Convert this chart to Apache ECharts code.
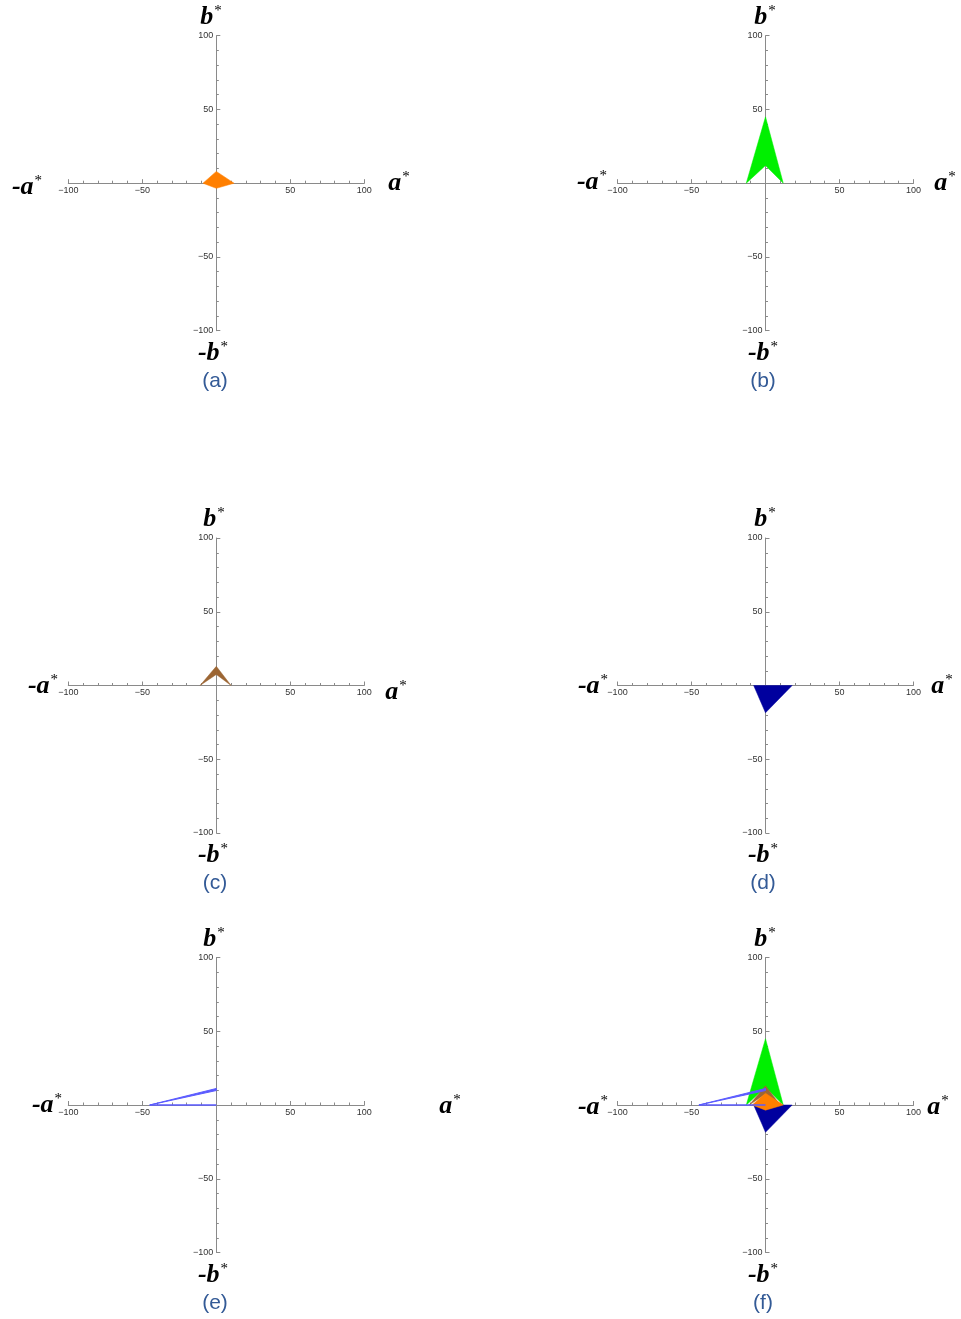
<!DOCTYPE html>
<html>
<head>
<meta charset="utf-8">
<style>
  html, body { margin: 0; padding: 0; background: #fff; }
  #chart { width: 961px; height: 1319px; }
</style>
<script src="https://cdn.jsdelivr.net/npm/echarts@6.0.0/dist/echarts.min.js"></script>
</head>
<body>
<div id="chart"></div>
<script>
// CIELAB a*b* shapes, vertices given as [a*, b*]
const orangeShape = [[12, 0], [0, 8], [-9, 0], [0, -3.5]];
const greenShape  = [[12, 0], [0, 45], [-13, 0], [0, 12]];
const brownShape  = [[10, 0], [0, 13], [-11, 0], [0, 7.5]];
const navyShape   = [[18, 0], [0, 0], [-8, 0], [0, -18.5]];
const blueShape   = [[0, 11.2], [-45, 0], [0, 9.8]];
const blueBase    = [[-45, 0], [0, 0]];

const axisMin = -100;
const axisMax = 100;
const tickStep = 50;

const captions = ['(a)', '(b)', '(c)', '(d)', '(e)', '(f)'];

const colors = {
  orange: '#ff7f00',
  green: '#00f000',
  brown: '#9c6634',
  navy: '#00009e',
  blue: '#5a5aff'
};

// which shapes appear in each panel (drawn in this order)
const panelShapes = [
  ['orange'],
  ['green'],
  ['brown'],
  ['navy'],
  ['blue'],
  ['green', 'navy', 'brown', 'orange', 'blue']
];

const shapeData = {
  orange: orangeShape,
  green: greenShape,
  brown: brownShape,
  navy: navyShape,
  blue: blueShape
};

// panel layout
const colLeft = [68.3, 617.5];
const rowTop = [35.7, 538, 957.5];
const plotW = 296, plotH = 295;

// axis name positions per panel: [b*, -b*, -a*, a*] centres
const nameSpots = [
  [[211, 17], [213, 353], [27, 187], [399, 183]],
  [[765, 17], [763, 353], [592, 182], [945, 183]],
  [[214, 519], [213, 855], [43, 686], [396, 692]],
  [[765, 519], [763, 855], [593, 686], [942, 686]],
  [[214, 939], [213, 1275], [47, 1105], [450, 1106]],
  [[765, 939], [763, 1275], [593, 1107], [938, 1107]]
];
const captionSpots = [[215, 381], [763, 381], [215, 883], [763, 883], [215, 1303], [763, 1303]];

const chart = echarts.init(document.getElementById('chart'));

const grids = [], xAxes = [], yAxes = [], series = [], graphics = [];

const tickFmt = v => (v === 0 ? '' : String(v).replace('-', '\u2212'));

for (let i = 0; i < 6; i++) {
  const col = i % 2, row = Math.floor(i / 2);
  grids.push({ left: colLeft[col], top: rowTop[row], width: plotW, height: plotH });
  const common = {
    gridIndex: i,
    type: 'value',
    min: axisMin,
    max: axisMax,
    interval: tickStep,
    splitLine: { show: false },
    axisLine: { onZero: false, lineStyle: { color: '#8a8a8a', width: 1 } },
    axisTick: { inside: true, length: 4, lineStyle: { color: '#8a8a8a' } },
    minorTick: { show: true, splitNumber: 5, length: 2.5, lineStyle: { color: '#8a8a8a' } },
    axisLabel: { formatter: tickFmt, fontSize: 9, color: '#333', fontFamily: 'Liberation Sans', margin: 3 }
  };
  // axes cross at the origin, in the middle of each plot
  xAxes.push(Object.assign({}, common, { position: 'bottom', offset: -plotH / 2 }));
  yAxes.push(Object.assign({}, common, { position: 'left', offset: -plotW / 2 }));

  panelShapes[i].forEach((key, k) => {
    const pts = shapeData[key];
    const col_ = colors[key];
    series.push({
      type: 'custom',
      xAxisIndex: i,
      yAxisIndex: i,
      silent: true,
      z: 5 + k,
      data: [0],
      renderItem: (params, api) => ({
        type: 'polygon',
        shape: { points: pts.map(p => api.coord(p)) },
        style: { fill: col_, stroke: col_, lineWidth: key === 'blue' ? 1 : 0.5 }
      })
    });
    if (key === 'blue') {
      series.push({
        type: 'custom',
        xAxisIndex: i,
        yAxisIndex: i,
        silent: true,
        z: 5 + k,
        data: [0],
        renderItem: (params, api) => ({
          type: 'polyline',
          shape: { points: blueBase.map(p => api.coord(p)) },
          style: { fill: null, stroke: col_, lineWidth: 1.5 }
        })
      });
    }
  });

  // axis names
  const names = [['', 'b'], ['-', 'b'], ['-', 'a'], ['', 'a']];
  names.forEach((nm, j) => {
    const [cx, cy] = nameSpots[i][j];
    graphics.push({
      type: 'text',
      x: cx, y: cy,
      z: 20,
      style: {
        text: '{m|' + nm[0] + nm[1] + '}{s|*}',
        align: 'center',
        verticalAlign: 'middle',
        rich: {
          m: { fontFamily: 'Liberation Serif', fontStyle: 'italic', fontWeight: 'bold', fontSize: 26, lineHeight: 26, fill: '#000', verticalAlign: 'bottom' },
          s: { fontFamily: 'Liberation Serif', fontSize: 15, lineHeight: 26, fill: '#000', verticalAlign: 'top', padding: [0, 0, 0, 1] }
        }
      }
    });
  });

  graphics.push({
    type: 'text',
    x: captionSpots[i][0], y: captionSpots[i][1],
    z: 20,
    style: {
      text: captions[i],
      fontFamily: 'Liberation Sans',
      fontSize: 21,
      fill: '#335a96',
      align: 'center',
      verticalAlign: 'middle'
    }
  });
}

chart.setOption({
  animation: false,
  backgroundColor: '#fff',
  grid: grids,
  xAxis: xAxes,
  yAxis: yAxes,
  series: series,
  graphic: graphics
});
</script>
</body>
</html>
